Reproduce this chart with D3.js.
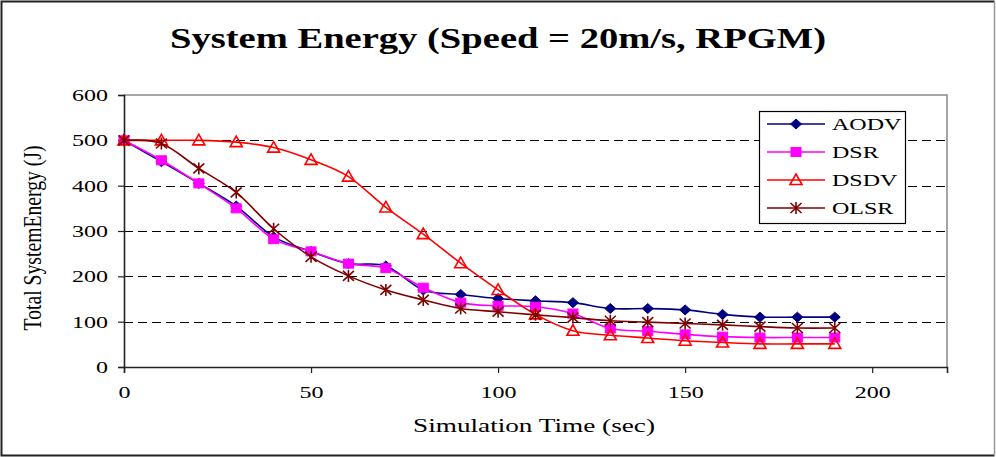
<!DOCTYPE html>
<html>
<head>
<meta charset="utf-8">
<script src="https://cdn.jsdelivr.net/npm/d3@7"></script>
<style>
  html, body { margin: 0; padding: 0; background: #fff; }
  svg { display: block; }
  text { font-family: "Liberation Serif", "Times New Roman", serif; fill: #000; }
</style>
</head>
<body>
<svg id="chart" width="996" height="457"></svg>
<script>
// Simulation time (sec) at which energy was sampled
const times = [0, 10, 20, 30, 40, 50, 60, 70, 80, 90, 100, 110, 120, 130, 140, 150, 160, 170, 180, 190];

// Total system energy (J) per routing protocol
const aodv = [500, 453, 405, 355, 287, 255, 228, 223, 170, 160, 151, 146, 142, 129, 129, 126, 116, 110, 110, 110];
const dsr  = [500, 456, 405, 350, 282, 255, 228, 218, 175, 142, 135, 133, 118, 85, 79, 72, 67, 65, 65, 65];
const dsdv = [500, 500, 500, 496, 484, 457, 420, 352, 293, 229, 170, 116, 80, 70, 64, 58, 54, 51, 51, 51];
const olsr = [500, 493, 438, 385, 305, 243, 201, 170, 148, 129, 122, 115, 109, 102, 99, 96, 93, 89, 86, 86];

const seriesNames = ["AODV", "DSR", "DSDV", "OLSR"];
const seriesValues = [aodv, dsr, dsdv, olsr];

const xTicks = [0, 50, 100, 150, 200];
const yTicks = [0, 100, 200, 300, 400, 500, 600];
const gridValues = [100, 200, 300, 400, 500];

const titleText = "System Energy (Speed = 20m/s, RPGM)";
const xTitle = "Simulation Time (sec)";
const yTitle = "Total SystemEnergy (J)";

// Visual styling per series
const styles = {
  AODV: { color: "#000080", marker: "diamond" },
  DSR:  { color: "#FF00FF", marker: "square" },
  DSDV: { color: "#FF0000", marker: "triangle" },
  OLSR: { color: "#800000", marker: "star" }
};

const SX = 1.5; // horizontal glyph stretch used throughout the text

const svg = d3.select("#chart");

// Outer chart frame
svg.append("path").attr("d", "M994.5,1.5 L1.5,1.5 L1.5,455.5 L994.5,455.5")
  .attr("fill", "none").attr("stroke", "#222").attr("stroke-width", 2);
svg.append("line").attr("x1", 994.5).attr("x2", 994.5).attr("y1", 1.5).attr("y2", 455.5)
  .attr("stroke", "#999").attr("stroke-width", 1.5);

const x = d3.scaleLinear().domain([0, 220]).range([124, 947]);
const y = d3.scaleLinear().domain([0, 600]).range([367, 95]);

// Plot area: top/right border in grey
svg.append("path")
  .attr("d", `M${x(0)},${y(600)} L${x(220)},${y(600)} L${x(220)},${y(0)}`)
  .attr("fill", "none").attr("stroke", "#888").attr("stroke-width", 1.5);

// Dashed horizontal gridlines
svg.append("g").selectAll("line").data(gridValues).join("line")
  .attr("x1", x(0)).attr("x2", x(220))
  .attr("y1", d => Math.round(y(d)) + 0.5).attr("y2", d => Math.round(y(d)) + 0.5)
  .attr("stroke", "#000").attr("stroke-width", 1.2).attr("stroke-dasharray", "9,5");

// Axes
const yAxis = svg.append("g").attr("transform", `translate(${x(0)},0)`)
  .call(d3.axisLeft(y).tickValues(yTicks).tickSize(6).tickPadding(0).tickFormat(d3.format("d")));
const xAxis = svg.append("g").attr("transform", `translate(0,${y(0)})`)
  .call(d3.axisBottom(x).tickValues(xTicks).tickSize(6).tickPadding(0).tickFormat(d3.format("d")));

[yAxis, xAxis].forEach(g => {
  g.attr("font-family", null);
  g.select(".domain").attr("stroke", "#222").attr("stroke-width", 1.6);
  g.selectAll(".tick line").attr("stroke", "#222").attr("stroke-width", 1.2);
  g.selectAll(".tick text").attr("font-size", 16).attr("fill", "#000");
});
yAxis.selectAll(".tick text")
  .attr("x", 0).attr("dy", null).attr("text-anchor", "end")
  .attr("transform", `translate(-16,5.5) scale(${SX},1)`);
xAxis.selectAll(".tick text")
  .attr("y", 0).attr("dy", null).attr("text-anchor", "middle")
  .attr("transform", `translate(0,31) scale(${SX},1)`);

// Titles
svg.append("text").attr("x", 498).attr("y", 48).attr("text-anchor", "middle")
  .attr("font-size", 29).attr("font-weight", "bold")
  .attr("textLength", 656).attr("lengthAdjust", "spacingAndGlyphs")
  .text(titleText);
svg.append("text").attr("x", 534).attr("y", 432).attr("text-anchor", "middle")
  .attr("font-size", 18)
  .attr("textLength", 242).attr("lengthAdjust", "spacingAndGlyphs")
  .text(xTitle);
svg.append("text")
  .attr("transform", `translate(41,238) scale(${SX},1) rotate(-90)`)
  .attr("text-anchor", "middle").attr("font-size", 17)
  .attr("textLength", 185).attr("lengthAdjust", "spacingAndGlyphs")
  .text(yTitle);

// Marker painter
function drawMarker(sel, kind, color) {
  if (kind === "diamond") {
    sel.append("path").attr("d", "M0,-5 L5.5,0 L0,5 L-5.5,0 Z").attr("fill", color).attr("stroke", color).attr("stroke-width", 1);
  } else if (kind === "square") {
    sel.append("rect").attr("x", -5).attr("y", -4.5).attr("width", 10).attr("height", 9).attr("fill", color).attr("stroke", color);
  } else if (kind === "triangle") {
    sel.append("path").attr("d", "M0,-6 L6,4.5 L-6,4.5 Z").attr("fill", "none").attr("stroke", color).attr("stroke-width", 1.6);
  } else if (kind === "star") {
    sel.append("path").attr("d", "M-5.5,-5 L5.5,5 M-5.5,5 L5.5,-5 M0,-6 L0,6")
      .attr("fill", "none").attr("stroke", color).attr("stroke-width", 1.6);
  }
}

const line = d3.line()
  .x(d => x(d.t)).y(d => y(d.v))
  .curve(d3.curveCatmullRom.alpha(0));

seriesNames.forEach((name, i) => {
  const st = styles[name];
  const pts = times.map((t, j) => ({ t, v: seriesValues[i][j] }));
  const g = svg.append("g");
  g.append("path").datum(pts).attr("d", line)
    .attr("fill", "none").attr("stroke", st.color).attr("stroke-width", 1.6);
  g.selectAll("g.m").data(pts).join("g").attr("class", "m")
    .attr("transform", d => `translate(${x(d.t)},${y(d.v)})`)
    .each(function () { drawMarker(d3.select(this), st.marker, st.color); });
});

// Legend
const legend = svg.append("g");
legend.append("rect").attr("x", 759.5).attr("y", 111.5).attr("width", 146).attr("height", 112)
  .attr("fill", "#fff").attr("stroke", "#000").attr("stroke-width", 1.2);
seriesNames.forEach((name, i) => {
  const st = styles[name];
  const cy = 124 + i * 28;
  const row = legend.append("g");
  row.append("line").attr("x1", 767).attr("x2", 825).attr("y1", cy).attr("y2", cy)
    .attr("stroke", st.color).attr("stroke-width", 1.6);
  drawMarker(row.append("g").attr("transform", `translate(796,${cy})`), st.marker, st.color);
  row.append("text").attr("transform", `translate(832,${cy + 6}) scale(${SX},1)`)
    .attr("font-size", 16).text(name);
});
</script>
</body>
</html>
